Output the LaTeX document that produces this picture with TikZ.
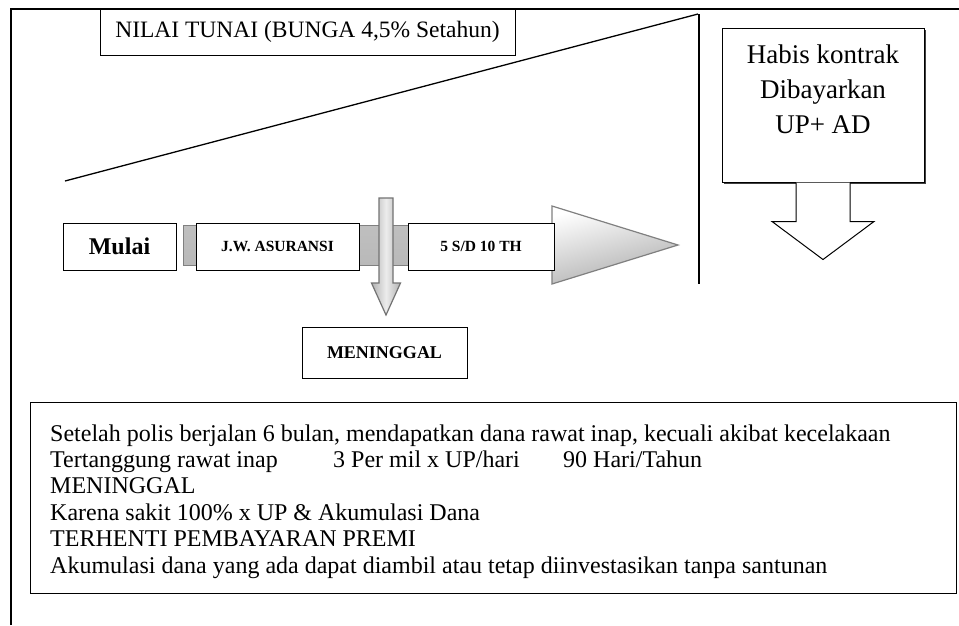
\documentclass[tikz,border=0pt]{standalone}
\usepackage{fontspec}
\setmainfont{Liberation Serif}
\usetikzlibrary{calc}
\begin{document}
\begin{tikzpicture}[x=1pt,y=-1pt,
  box/.style={draw=black, fill=white, line width=1pt, inner sep=0pt, align=center},
  bodyline/.style={anchor=base west, inner sep=0pt, font=\fontsize{24}{26}\selectfont},
  barshade/.style={top color=gray!50, middle color=gray!8, bottom color=gray!55},
  graydraw/.style={draw=black!55, line width=1.2pt}
]
\useasboundingbox (0,0) rectangle (959,625);
\fill[white] (0,0) rectangle (959,625);

% outer frame
\draw[line width=1.5pt] (11,625) -- (11,9) -- (959,9);

% value growth lines
\draw[line width=1.3pt] (65,181) -- (698,14);
\draw[line width=1.3pt] (699,14) -- (699,284);

% title box
\node[box, minimum width=415pt, minimum height=46pt, font=\fontsize{23.5}{26}\selectfont]
  (nilai) at (307.5,32) {NILAI TUNAI (BUNGA 4,5\% Setahun)};

% maturity box with shadow
\fill[black!75] (724,30) rectangle (926,184);
\node[box, minimum width=202pt, minimum height=154pt] (habis) at (823,105) {};
\node[font=\fontsize{27}{35}\selectfont, align=center, inner sep=0pt]
  (habistxt) at (823,89) {Habis kontrak\\Dibayarkan\\UP+ AD};
\draw[line width=1pt, fill=white]
  ($(habis.south)+(-27,0)$) -- ($(habis.south)+(-27,39)$) -- ($(habis.south)+(-51,39)$)
  -- ($(habis.south)+(0,77)$) -- ($(habis.south)+(51,39)$) -- ($(habis.south)+(27,39)$)
  -- ($(habis.south)+(27,0)$);

% timeline bar and arrowhead
\shade[barshade] (183,225) rectangle (553,265);
\draw[draw=gray, line width=1pt] (183,225) rectangle (553,265);
\shade[top color=white, bottom color=gray!65, shading angle=15]
  (552,206) -- (678,245) -- (552,284) -- cycle;
\draw[draw=black!50, line width=1.2pt] (552,206) -- (678,245) -- (552,284) -- cycle;

% timeline boxes
\node[box, minimum width=113pt, minimum height=47pt, font=\bfseries\fontsize{24}{26}\selectfont]
  (mulai) at (119.5,246.5) {Mulai};
\node[box, minimum width=163pt, minimum height=47pt, font=\bfseries\fontsize{15.5}{18}\selectfont]
  (jw) at (277.5,246.5) {J.W. ASURANSI};
\node[box, minimum width=146pt, minimum height=47pt, font=\bfseries\fontsize{15.5}{18}\selectfont]
  (sd) at (481,246.5) {5 S/D 10 TH};

% death box and its arrow
\node[box, minimum width=165pt, minimum height=51pt, font=\bfseries\fontsize{18}{20}\selectfont]
  (mening) at (384.5,352.5) {MENINGGAL};
\coordinate (dtop) at (386,198);
\shade[left color=gray!60, right color=gray!60, middle color=gray!15]
  ($(dtop)+(-7,0)$) -- ($(dtop)+(-7,85)$) -- ($(dtop)+(-14.5,85)$) -- ($(dtop)+(0,117)$)
  -- ($(dtop)+(14.5,85)$) -- ($(dtop)+(7,85)$) -- ($(dtop)+(7,0)$) -- cycle;
\draw[graydraw]
  ($(dtop)+(-7,0)$) -- ($(dtop)+(-7,85)$) -- ($(dtop)+(-14.5,85)$) -- ($(dtop)+(0,117)$)
  -- ($(dtop)+(14.5,85)$) -- ($(dtop)+(7,85)$) -- ($(dtop)+(7,0)$) -- cycle;

% information box
\node[box, minimum width=926pt, minimum height=191pt] (info) at (493,497.5) {};
\node[bodyline] (l1) at (50,441) {Setelah polis berjalan 6 bulan, mendapatkan dana rawat inap, kecuali akibat kecelakaan};
\node[bodyline] (l2a) at (50,467.4) {Tertanggung rawat inap};
\node[bodyline] (l2b) at (333,467.4) {3 Per mil x UP/hari};
\node[bodyline] (l2c) at (563,467.4) {90 Hari/Tahun};
\node[bodyline] (l3) at (50,493.8) {MENINGGAL};
\node[bodyline] (l4) at (50,520.2) {Karena sakit 100\% x UP \& Akumulasi Dana};
\node[bodyline] (l5) at (50,546.6) {TERHENTI PEMBAYARAN PREMI};
\node[bodyline] (l6) at (50,573) {Akumulasi dana yang ada dapat diambil atau tetap diinvestasikan tanpa santunan};
\end{tikzpicture}
\end{document}
